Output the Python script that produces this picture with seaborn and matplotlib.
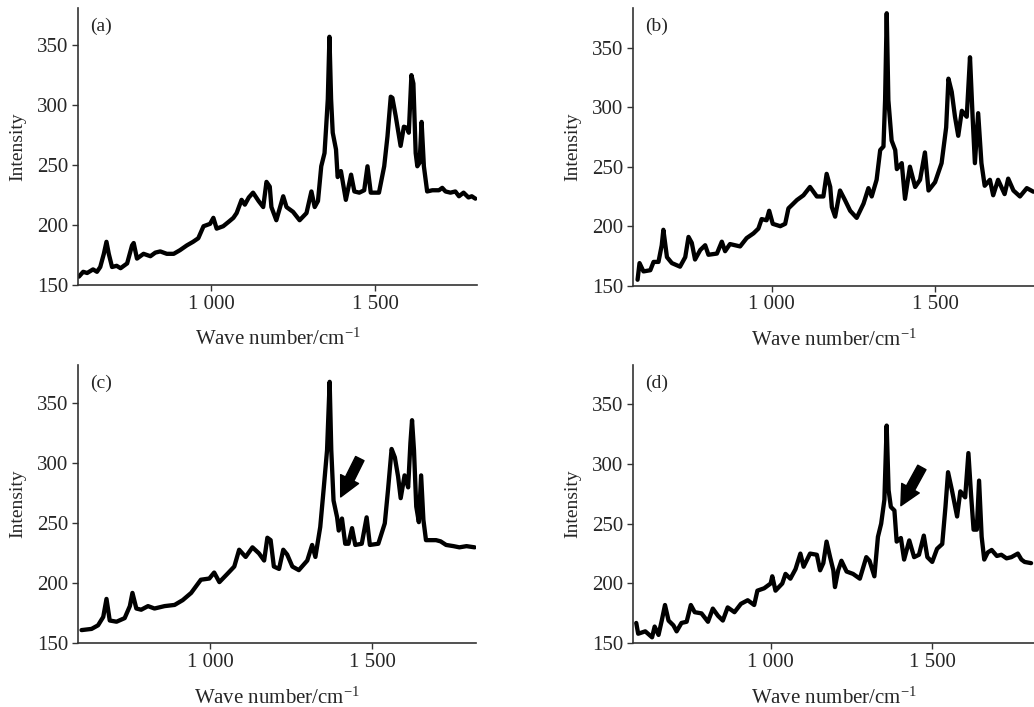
import numpy as np
import pandas as pd
import matplotlib
matplotlib.use("Agg")
import matplotlib.pyplot as plt
import seaborn as sns

# ---------------- data ----------------
wave_a = [597, 610, 622, 640, 652, 662, 673, 681, 688, 698, 712, 724, 744, 759, 764, 774, 794, 815,
          830, 845, 865, 886, 905, 926, 945, 961, 977, 997, 1007, 1017, 1037, 1055, 1068, 1078,
          1093, 1103, 1115, 1128, 1145, 1159, 1169, 1179, 1184, 1199, 1220, 1230, 1250, 1270,
          1291, 1306, 1316, 1326, 1336, 1346, 1351, 1356, 1361, 1366, 1371, 1381, 1386, 1396,
          1411, 1427, 1437, 1452, 1467, 1477, 1487, 1512, 1528, 1538, 1548, 1553, 1563, 1578,
          1588, 1598, 1603, 1611, 1617, 1624, 1629, 1636, 1642, 1649, 1659, 1675, 1695, 1705,
          1715, 1730, 1745, 1756, 1770, 1785, 1795, 1806]
int_a = [157, 161, 160, 163, 161, 165, 176, 186, 176, 165, 166, 164, 168, 183, 185, 172, 176, 174,
         177, 178, 176, 176, 179, 183, 186, 189, 199, 201, 206, 197, 199, 203, 206, 210,
         221, 217, 223, 227, 220, 215, 236, 232, 215, 204, 224, 215, 211, 204,
         210, 228, 215, 220, 249, 260, 282, 305, 357, 305, 277, 263, 240, 245,
         221, 242, 228, 227, 229, 249, 227, 227, 249, 274, 307, 306, 291, 266,
         282, 281, 277, 325, 318, 260, 249, 252, 286, 249, 228, 229, 229, 231,
         228, 227, 228, 224, 227, 223, 224, 222]

wave_b = [589, 595, 607, 628, 638, 653, 663, 668, 679, 694, 719, 735, 745, 755, 765, 781, 796,
          806, 832, 847, 857, 872, 903, 923, 944, 959, 969, 984, 992, 1003, 1026, 1041, 1051,
          1066, 1077, 1097, 1117, 1138, 1158, 1168, 1179, 1184, 1194, 1209, 1224, 1240, 1260,
          1281, 1296, 1306, 1321, 1332, 1342, 1347, 1352, 1357, 1367, 1378, 1383, 1398, 1408,
          1423, 1439, 1454, 1469, 1480, 1500, 1520, 1534, 1541, 1551, 1561, 1571, 1582, 1597,
          1602, 1607, 1615, 1622, 1632, 1642, 1652, 1668, 1678, 1693, 1713, 1724, 1740, 1760,
          1781, 1801]
int_b = [155, 169, 162, 163, 170, 170, 184, 197, 174, 169, 166, 174, 191, 186, 172, 180, 184,
         176, 177, 187, 179, 185, 183, 190, 194, 198, 206, 205, 213, 202, 200, 202, 215,
         219, 222, 226, 233, 225, 225, 244, 233, 216, 208, 230, 222, 213, 207,
         219, 232, 225, 239, 264, 267, 306, 379, 306, 272, 264, 248, 253, 223,
         250, 233, 239, 262, 230, 237, 253, 283, 324, 313, 292, 276, 297, 292,
         317, 342, 292, 253, 295, 253, 234, 239, 226, 239, 227, 240, 230, 225,
         232, 229]

wave_c = [603, 634, 654, 670, 680, 690, 711, 736, 752, 760, 772, 787, 808, 828, 859, 890, 915,
          941, 971, 997, 1012, 1028, 1053, 1074, 1089, 1109, 1130, 1150, 1166, 1176, 1186,
          1196, 1212, 1225, 1237, 1253, 1273, 1299, 1314, 1324, 1339, 1350, 1360, 1368, 1373,
          1380, 1391, 1396, 1406, 1416, 1426, 1437, 1447, 1467, 1482, 1492, 1518, 1538, 1548,
          1559, 1569, 1579, 1587, 1599, 1610, 1617, 1622, 1628, 1635, 1643, 1650, 1657, 1665,
          1696, 1710, 1727, 1750, 1768, 1790, 1815]
int_c = [161, 162, 165, 172, 187, 169, 168, 171, 181, 192, 179, 178, 181, 179, 181, 182, 186,
         192, 203, 204, 209, 201, 208, 214, 228, 222, 230, 225, 219, 238, 236,
         214, 212, 228, 224, 214, 211, 219, 232, 222, 247, 280, 311, 368, 311,
         269, 255, 244, 254, 233, 233, 246, 232, 233, 255, 232, 233, 250, 278,
         312, 305, 289, 271, 290, 280, 317, 336, 311, 264, 251, 290, 253, 236,
         236, 235, 232, 231, 230, 231, 230]

wave_d = [584, 590, 612, 633, 641, 653, 663, 673, 684, 699, 709, 724, 740, 753, 765, 786, 806,
          821, 837, 852, 867, 888, 908, 929, 949, 959, 980, 1000, 1005, 1015, 1036, 1046, 1061,
          1077, 1092, 1102, 1122, 1143, 1153, 1163, 1173, 1184, 1194, 1199, 1209, 1219, 1235,
          1255, 1276, 1296, 1306, 1321, 1332, 1342, 1352, 1359, 1365, 1372, 1383, 1390, 1403,
          1413, 1429, 1444, 1459, 1474, 1485, 1500, 1515, 1531, 1541, 1549, 1561, 1577, 1587,
          1602, 1612, 1620, 1628, 1638, 1645, 1653, 1661, 1672, 1684, 1700, 1714, 1730, 1745,
          1765, 1776, 1786, 1806]
int_d = [167, 158, 160, 155, 164, 157, 169, 182, 169, 165, 160, 167, 168, 182, 176, 175, 168,
         179, 173, 169, 180, 176, 183, 186, 182, 194, 196, 200, 206, 194, 200, 208, 204,
         212, 225, 214, 225, 224, 211, 217, 235, 222, 211, 197, 211, 219, 210,
         208, 204, 222, 219, 206, 239, 250, 270, 332, 278, 264, 261, 235, 238,
         220, 236, 222, 224, 240, 222, 218, 229, 233, 264, 293, 278, 256, 277,
         272, 309, 275, 245, 245, 286, 239, 220, 226, 228, 223, 224, 221, 222,
         225, 220, 218, 217]

panel_labels = ["(a)", "(b)", "(c)", "(d)"]
x_ticks = [1000, 1500]
x_tick_labels = ["1 000", "1 500"]
y_ticks = [150, 200, 250, 300, 350]
x_label = "Wave number/cm$\\mathregular{^{-1}}$"
y_label = "Intensity"

# arrows (tail -> head) in data coords for panels c and d
arrow_c = ((1461, 304), (1402, 272))
arrow_d = ((1468, 297), (1403, 265))

# ---------------- style ----------------
sns.set_style("ticks")
plt.rcParams["font.family"] = ["Liberation Serif", "DejaVu Serif"]
plt.rcParams["mathtext.fontset"] = "custom"
plt.rcParams["mathtext.rm"] = "Liberation Serif"

fig = plt.figure(figsize=(10.34, 7.07), dpi=100)

positions = [
    [0.0757, 0.5969, 0.3853, 0.3918],
    [0.6125, 0.5959, 0.3875, 0.3921],
    [0.0757, 0.0901, 0.3849, 0.3936],
    [0.6125, 0.0901, 0.3875, 0.3936],
]
xlims = [(595, 1810), (576, 1803), (593, 1820), (575, 1815)]
ylims = [(150, 381), (150, 383), (150, 382), (150, 382.6)]

datasets = [(wave_a, int_a), (wave_b, int_b), (wave_c, int_c), (wave_d, int_d)]

for i, ((wx, wy), pos) in enumerate(zip(datasets, positions)):
    ax = fig.add_axes(pos)
    df = pd.DataFrame({"wave": wx, "intensity": wy})
    sns.lineplot(data=df, x="wave", y="intensity", ax=ax, color="black",
                 linewidth=3.1, sort=False, estimator=None)
    ax.set_xlim(*xlims[i])
    ax.set_ylim(*ylims[i])
    ax.set_xticks(x_ticks)
    ax.set_xticklabels(x_tick_labels)
    ax.set_yticks(y_ticks)
    ax.tick_params(axis="both", labelsize=15, length=4, width=1, color="#333333",
                   direction="out", pad=3)
    for s in ["top", "right"]:
        ax.spines[s].set_visible(False)
    for s in ["left", "bottom"]:
        ax.spines[s].set_linewidth(1.2)
        ax.spines[s].set_color("#333333")
    ax.set_xlabel(x_label, fontsize=15, labelpad=11)
    ax.set_ylabel(y_label, fontsize=14, labelpad=8)
    ax.text(0.03, 0.965, panel_labels[i], transform=ax.transAxes, fontsize=14,
            ha="left", va="top")
    if i in (2, 3):
        (tx, ty), (hx, hy) = arrow_c if i == 2 else arrow_d
        ax.annotate("", xy=(hx, hy), xytext=(tx, ty),
                    arrowprops=dict(arrowstyle="simple,head_length=0.9,head_width=0.9,tail_width=0.42",
                                    color="black", shrinkA=0, shrinkB=0, mutation_scale=16))

fig.savefig("out.png", dpi=100)
